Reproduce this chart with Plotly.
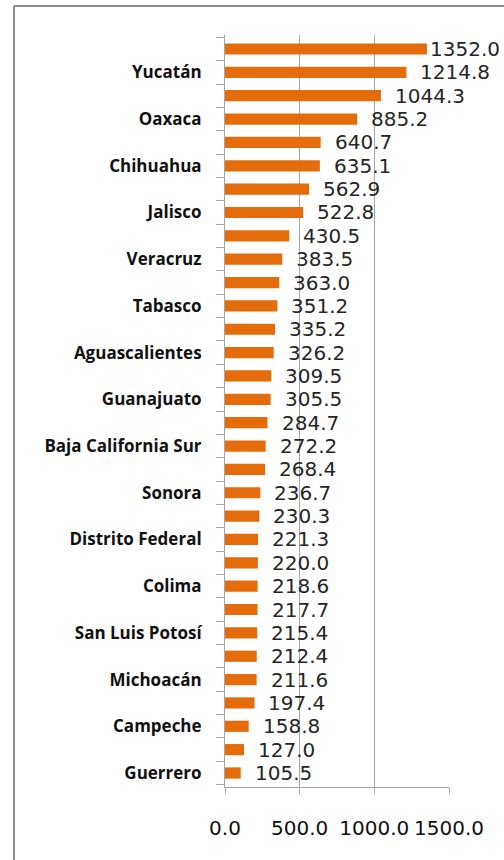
import plotly.graph_objects as go

# Categories, top to bottom (only every second one is labelled in the source)
estados = ["", "Yucatán", "", "Oaxaca", "", "Chihuahua", "", "Jalisco",
           "", "Veracruz", "", "Tabasco", "", "Aguascalientes", "", "Guanajuato",
           "", "Baja California Sur", "", "Sonora", "", "Distrito Federal", "", "Colima",
           "", "San Luis Potosí", "", "Michoacán", "", "Campeche", "", "Guerrero"]
valores = [1352.0, 1214.8, 1044.3, 885.2, 640.7, 635.1, 562.9, 522.8,
           430.5, 383.5, 363.0, 351.2, 335.2, 326.2, 309.5, 305.5,
           284.7, 272.2, 268.4, 236.7, 230.3, 221.3, 220.0, 218.6,
           217.7, 215.4, 212.4, 211.6, 197.4, 158.8, 127.0, 105.5]
x_ticks = [0, 500, 1000, 1500]
x_ticktext = ["0.0", "500.0", "1000.0", "1500.0"]

ids = [e if e else f"_{i}" for i, e in enumerate(estados)]

W, H = 504, 860
ML, MR, MT, MB = 225, 55, 35, 73
plot_w = W - ML - MR
plot_h = H - MT - MB
XMAX = 1500

fig = go.Figure(go.Bar(
    x=valores, y=ids, orientation="h",
    marker=dict(color="#E46C0A", line=dict(width=0)),
    width=0.48,
))

ann = []
for v, yid in zip(valores, ids):
    end_px = v / XMAX * plot_w
    shift = min(12, plot_w + MR - 4 - 72 - end_px)
    ann.append(dict(x=v, y=yid, xref="x", yref="y", text=f"{v:.1f}",
                    showarrow=False, xanchor="left", yanchor="middle",
                    xshift=shift, font=dict(family="DejaVu Sans", size=20, color="#262626")))

bx0 = (14 - ML) / plot_w          # left border
by1 = (H - MB - 6) / plot_h       # top border
fig.update_layout(
    width=W, height=H,
    margin=dict(l=ML, r=MR, t=MT, b=MB),
    paper_bgcolor="white", plot_bgcolor="white",
    showlegend=False,
    annotations=ann,
    shapes=[
        dict(type="line", xref="paper", yref="paper", x0=bx0, x1=bx0, y0=-0.2, y1=by1,
             line=dict(color="#8c8c8c", width=2)),
        dict(type="line", xref="paper", yref="paper", x0=bx0, x1=1.4, y0=by1, y1=by1,
             line=dict(color="#8c8c8c", width=2)),
    ],
)
fig.update_xaxes(range=[0, XMAX], tickvals=x_ticks, ticktext=x_ticktext,
                 showgrid=True, gridcolor="#a6a6a6", gridwidth=1,
                 showline=True, linecolor="#a6a6a6", linewidth=1,
                 ticks="outside", ticklen=6, tickcolor="#a6a6a6",
                 ticklabelstandoff=17,
                 tickfont=dict(family="DejaVu Sans", size=20, color="#111111"),
                 zeroline=False, fixedrange=True)
fig.update_yaxes(type="category", autorange="reversed",
                 tickvals=ids, ticktext=estados, tickson="boundaries",
                 showgrid=False, showline=True, linecolor="#a6a6a6", linewidth=1,
                 ticks="outside", ticklen=8, tickcolor="#a6a6a6",
                 ticklabelstandoff=19,
                 tickfont=dict(family="Open Sans", size=17, color="#111111", weight="bold"),
                 fixedrange=True)

fig.write_html("out.html", config={"displayModeBar": False},
               post_script="document.body.style.margin='0';document.body.style.overflow='hidden';")
